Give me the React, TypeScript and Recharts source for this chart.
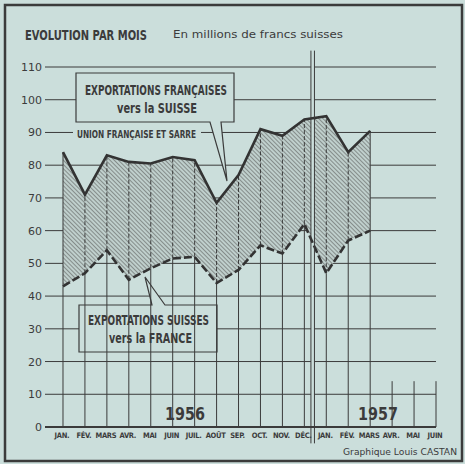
import React from "react";
import {
  ComposedChart,
  Area,
  Line,
  XAxis,
  YAxis,
  CartesianGrid,
  ReferenceLine,
  ReferenceArea,
} from "recharts";

const months1956 = ["JAN.", "FÉV.", "MARS", "AVR.", "MAI", "JUIN", "JUIL.", "AOÛT", "SEP.", "OCT.", "NOV.", "DÉC."];
const months1957 = ["JAN.", "FÉV.", "MARS", "AVR.", "MAI", "JUIN"];
const monthLabels = [...months1956, ...months1957];
const frenchExports = [84, 71, 83, 81, 80.5, 82.5, 81.5, 68.5, 77, 91, 89, 94, 95, 84, 90.5];
const swissExports = [43, 47, 54, 45, 48.5, 51.5, 52, 44, 48, 55.5, 53, 62, 47, 57, 60];
const yTicks = [0, 10, 20, 30, 40, 50, 60, 70, 80, 90, 100, 110];
const futureTickTop = 14;

const BG = "#cbdedb";
const INK = "#3b3b3b";
const NARROW = "'Liberation Sans Narrow', 'DejaVu Sans Condensed', 'Roboto Condensed', 'Arial Narrow', sans-serif";
const ROUND = "'DejaVu Sans', 'Noto Sans', sans-serif";

const data = monthLabels.map((m, i) => ({
  i,
  m,
  fr: frenchExports[i],
  ch: swissExports[i],
  range: frenchExports[i] !== undefined ? [swissExports[i], frenchExports[i]] : undefined,
}));

const YTick = (props: any) => {
  const { x, y, payload } = props;
  return (
    <text x={x} y={y} dy={4} textAnchor="end" fontFamily={ROUND} fontSize={11} fill={INK}>
      {payload.value}
    </text>
  );
};

const XTick = (props: any) => {
  const { x, payload } = props;
  const label = monthLabels[payload.value] || "";
  return (
    <text
      x={x - 1}
      y={438}
      textAnchor="middle"
      fontFamily={NARROW}
      fontWeight="bold"
      fontSize={7.5}
      letterSpacing={-0.3}
      fill={INK}
    >
      {label}
    </text>
  );
};

const T = (p: any) => {
  const { x, y, w, size, children, weight, family } = p;
  return (
    <text
      x={x}
      y={y}
      textLength={w}
      lengthAdjust="spacingAndGlyphs"
      fontFamily={family || NARROW}
      fontWeight={weight || "normal"}
      fontSize={size}
      fill={INK}
    >
      {children}
    </text>
  );
};

const Decor = () => (
  <g>
    <rect x={5} y={5} width={457} height={456} fill="none" stroke={INK} strokeWidth={2.5} />
    <T x={25} y={40} w={122} size={13.5} weight="bold">EVOLUTION PAR MOIS</T>
    <T x={173} y={38} w={170} size={10} family={ROUND}>En millions de francs suisses</T>
    <T x={343} y={455} w={114} size={8.5} family={ROUND}>Graphique Louis CASTAN</T>

    <path
      d="M76,73 H234 V122 H221 L227,181 L210,122 H76 Z"
      fill={BG}
      stroke={INK}
      strokeWidth={1.2}
    />
    <T x={85} y={95} w={142} size={14} weight="bold">EXPORTATIONS FRANÇAISES</T>
    <T x={117} y={113} w={80} size={14} weight="bold">vers la SUISSE</T>

    <rect x={73} y={127} width={128} height={13} fill={BG} />
    <T x={77} y={138} w={119} size={10} weight="bold">UNION FRANÇAISE ET SARRE</T>

    <path
      d="M79,305 H152 L145,277 L165,305 H217 V352 H79 Z"
      fill={BG}
      stroke={INK}
      strokeWidth={1.2}
    />
    <T x={88} y={325} w={121} size={14} weight="bold">EXPORTATIONS SUISSES</T>
    <T x={109} y={343} w={83} size={14} weight="bold">vers la FRANCE</T>

    <rect x={162} y={402} width={47} height={21} fill={BG} />
    <T x={165} y={420} w={40} size={17} weight="bold" family={ROUND}>1956</T>
    <rect x={355} y={402} width={46} height={21} fill={BG} />
    <T x={358} y={420} w={40} size={17} weight="bold" family={ROUND}>1957</T>
  </g>
);

export default function App() {
  return (
    <div style={{ position: "absolute", left: 0, top: 0, width: 465, height: 464, background: BG }}>
      <ComposedChart
        width={465}
        height={464}
        data={data}
        margin={{ top: 67, right: 29, bottom: 7, left: 6 }}
      >
        <defs>
          <pattern id="hatch" patternUnits="userSpaceOnUse" width={3} height={3} patternTransform="rotate(-45)">
            <rect width={3} height={3} fill="#bfcfcc" />
            <line x1={0} y1={0} x2={0} y2={3} stroke="#505050" strokeWidth={1.05} />
          </pattern>
        </defs>
        <CartesianGrid horizontal vertical={false} stroke={INK} strokeWidth={1} />
        <XAxis
          type="number"
          dataKey="i"
          domain={[-0.82, 17]}
          ticks={monthLabels.map((_, i) => i)}
          tick={<XTick />}
          tickLine={false}
          axisLine={false}
          height={30}
          interval={0}
          allowDataOverflow
        />
        <YAxis
          type="number"
          domain={[0, 110]}
          ticks={yTicks}
          tick={<YTick />}
          tickLine={false}
          axisLine={false}
          tickSize={0}
          tickMargin={3}
          width={39}
          interval={0}
        />
        <Area
          dataKey="range"
          type="linear"
          fill="url(#hatch)"
          fillOpacity={1}
          stroke="none"
          isAnimationActive={false}
          connectNulls={false}
        />
        {frenchExports.map((v, i) => (
          <ReferenceLine
            key={"s" + i}
            segment={[{ x: i, y: 0 }, { x: i, y: swissExports[i] }]}
            stroke={INK}
            strokeWidth={1}
          />
        ))}
        {frenchExports.map((v, i) => (
          <ReferenceLine
            key={"d" + i}
            segment={[{ x: i, y: swissExports[i] }, { x: i, y: v }]}
            stroke={INK}
            strokeWidth={1}
            strokeDasharray={i === 0 || i === frenchExports.length - 1 ? undefined : "4 2"}
          />
        ))}
        {monthLabels.slice(frenchExports.length).map((_, k) => (
          <ReferenceLine
            key={"f" + k}
            segment={[{ x: frenchExports.length + k, y: 0 }, { x: frenchExports.length + k, y: futureTickTop }]}
            stroke={INK}
            strokeWidth={1}
          />
        ))}
        <ReferenceLine y={0} stroke={INK} strokeWidth={2} />
        <Line
          dataKey="fr"
          type="linear"
          stroke="#333"
          strokeWidth={2.6}
          dot={false}
          isAnimationActive={false}
          connectNulls={false}
        />
        <Line
          dataKey="ch"
          type="linear"
          stroke="#333"
          strokeWidth={2.6}
          strokeDasharray="8 3"
          dot={false}
          isAnimationActive={false}
          connectNulls={false}
        />
        <ReferenceArea x1={11.3} x2={11.46} y1={-5} y2={115} ifOverflow="visible" fill={BG} fillOpacity={1} stroke="none" />
        <ReferenceLine segment={[{ x: 11.3, y: -5 }, { x: 11.3, y: 115 }]} ifOverflow="visible" stroke={INK} strokeWidth={1} />
        <ReferenceLine segment={[{ x: 11.46, y: -5 }, { x: 11.46, y: 115 }]} ifOverflow="visible" stroke={INK} strokeWidth={1} />
        <Decor />
      </ComposedChart>
    </div>
  );
}
